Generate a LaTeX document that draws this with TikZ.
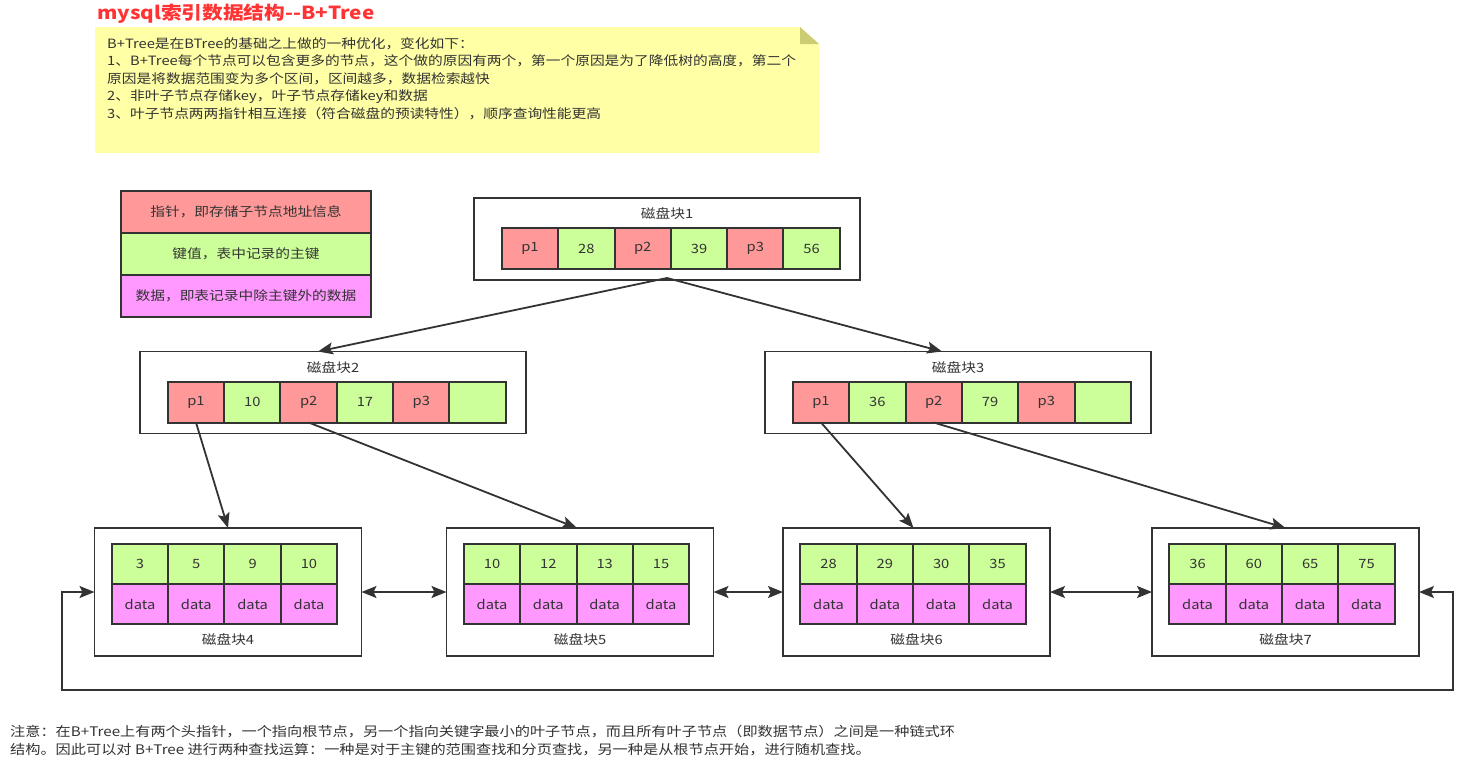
\documentclass[tikz,border=0pt]{standalone}
\usepackage{fontspec}
\setmainfont[FakeStretch=1.15]{Noto Sans CJK SC}
\usetikzlibrary{arrows.meta}
\definecolor{ptr}{HTML}{FF9999}
\definecolor{key}{HTML}{CCFF99}
\definecolor{dat}{HTML}{FF99FF}
\definecolor{note}{HTML}{FFFFA6}
\definecolor{fold}{HTML}{CCCC73}
\definecolor{ink}{HTML}{333333}
\definecolor{titlered}{HTML}{FF3333}
\tikzset{
  cell/.style={draw=ink, line width=2pt, minimum width=56.33pt, minimum height=41pt, inner sep=0pt, outer sep=0pt, text=ink, font=\fontsize{12.8}{14}\selectfont},
  pcell/.style={cell, fill=ptr},
  kcell/.style={cell, fill=key},
  dcell/.style={cell, fill=dat, minimum height=40pt},
  lkcell/.style={cell, fill=key, minimum height=40pt},
  blockbox/.style={draw=ink, line width=1.8pt, fill=white, inner sep=0pt, outer sep=0pt},
  blabel/.style={text=ink, font=\fontsize{12.8}{14}\selectfont, inner sep=0pt},
  legend/.style={draw=ink, line width=2pt, minimum width=250pt, minimum height=42pt, inner sep=0pt, outer sep=0pt, text=ink, font=\fontsize{12.8}{14}\selectfont},
  conn/.style={draw=ink, line width=1.8pt, -{Stealth[length=15pt,width=12pt,inset=3pt]}},
  dconn/.style={draw=ink, line width=1.8pt, {Stealth[length=15pt,width=12pt,inset=3pt]}-{Stealth[length=15pt,width=12pt,inset=3pt]}},
  txt/.style={text=ink, inner sep=0pt, align=left, font=\fontsize{12.8}{17.6}\selectfont},
}
\begin{document}
\begin{tikzpicture}[x=1pt,y=-1pt]
\useasboundingbox (0,0) rectangle (1479,769);
% title
\node[anchor=west, inner sep=0pt, text=titlered, font=\fontsize{18}{20}\selectfont\bfseries] (title) at (97,14) {mysql索引数据结构-{}-B+Tree};
% note
\path[fill=note] (95,27) -- (800,27) -- (819,44) -- (819,153) -- (95,153) -- cycle;
\path[fill=fold] (800,27) -- (819,44) -- (800,44) -- cycle;
\node[txt, anchor=north west] (notetext) at (107,37) {B+Tree是在BTree的基础之上做的一种优化，变化如下：\\
1、B+Tree每个节点可以包含更多的节点，这个做的原因有两个，第一个原因是为了降低树的高度，第二个\\
原因是将数据范围变为多个区间，区间越多，数据检索越快\\
2、非叶子节点存储key，叶子节点存储key和数据\\
3、叶子节点两两指针相互连接（符合磁盘的预读特性），顺序查询性能更高};
% legend
\node[legend, fill=ptr] (lg1) at (246,212) {指针，即存储子节点地址信息};
\node[legend, fill=key] (lg2) at (246,254) {键值，表中记录的主键};
\node[legend, fill=dat] (lg3) at (246,296) {数据，即表记录中除主键外的数据};
% internal blocks
\newcommand{\inblock}[8]{%
  \node[blockbox, minimum width=386pt, minimum height=82pt] (#1) at (#2,#3) {};
  \node[blabel] (#1l) at (#2,#3-25) {磁盘块#4};
  \node[pcell] (#1c1) at (#2-137,#3+9.5) {p1};
  \node[kcell, anchor=west] (#1c2) at (#1c1.east) {#5};
  \node[pcell, anchor=west] (#1c3) at (#1c2.east) {p2};
  \node[kcell, anchor=west] (#1c4) at (#1c3.east) {#6};
  \node[pcell, anchor=west] (#1c5) at (#1c4.east) {p3};
  \node[kcell, anchor=west] (#1c6) at (#1c5.east) {#7};
}
\inblock{b1}{667}{239}{1}{28}{39}{56}{}
\inblock{b2}{333}{392.5}{2}{10}{17}{}{}
\inblock{b3}{958}{392.5}{3}{36}{79}{}{}
% leaf blocks
\newcommand{\leafblock}[9]{%
  \node[blockbox, minimum width=267pt, minimum height=128pt] (#1) at (#2,#3) {};
  \node[blabel] (#1l) at (#2,#3+48) {磁盘块#4};
  \node[lkcell] (#1k1) at (#2-88,#3-28) {#5};
  \node[lkcell, anchor=west] (#1k2) at (#1k1.east) {#6};
  \node[lkcell, anchor=west] (#1k3) at (#1k2.east) {#7};
  \node[lkcell, anchor=west] (#1k4) at (#1k3.east) {#8};
  \node[dcell, anchor=north] (#1d1) at (#1k1.south) {data};
  \node[dcell, anchor=north] (#1d2) at (#1k2.south) {data};
  \node[dcell, anchor=north] (#1d3) at (#1k3.south) {data};
  \node[dcell, anchor=north] (#1d4) at (#1k4.south) {data};
}
\leafblock{b4}{228}{592}{4}{3}{5}{9}{10}{}
\leafblock{b5}{580}{592}{5}{10}{12}{13}{15}{}
\leafblock{b6}{916.5}{592}{6}{28}{29}{30}{35}{}
\leafblock{b7}{1285.5}{592}{7}{36}{60}{65}{75}{}
% tree connectors
\draw[conn] ([yshift=2pt]b1.south) -- ([xshift=-15pt]b2.north);
\draw[conn] ([yshift=2pt]b1.south) -- ([xshift=-16pt]b3.north);
\draw[conn] (b2c1.south) -- (b4.north);
\draw[conn] (b2c3.south) -- ([xshift=-3pt]b5.north);
\draw[conn] (b3c1.south) -- ([xshift=-3pt]b6.north);
\draw[conn] (b3c3.south) -- (b7.north);
% leaf links
\draw[dconn] (b4.east) -- (b5.west);
\draw[dconn] (b5.east) -- (b6.west);
\draw[dconn] (b6.east) -- (b7.west);
\coordinate (ll) at (62,690);
\coordinate (lr) at (1453,690);
\draw[dconn] (b4.west) -| (ll) -- (lr) |- (b7.east);
% bottom note
\node[txt, anchor=north west, font=\fontsize{13.2}{17.6}\selectfont] (bottomnote) at (10,725) {注意：在B+Tree上有两个头指针，一个指向根节点，另一个指向关键字最小的叶子节点，而且所有叶子节点（即数据节点）之间是一种链式环\\
结构。因此可以对 B+Tree 进行两种查找运算：一种是对于主键的范围查找和分页查找，另一种是从根节点开始，进行随机查找。};
\end{tikzpicture}
\end{document}
